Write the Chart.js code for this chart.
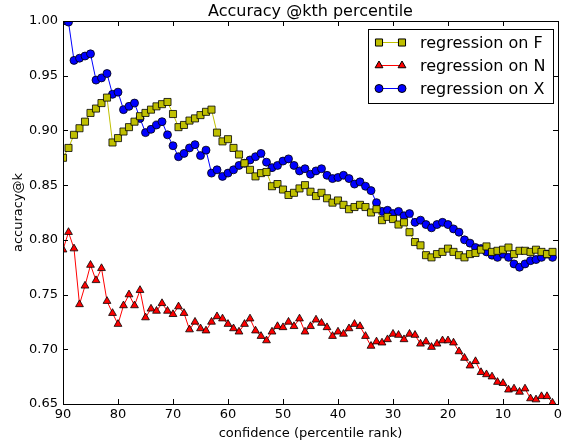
<!DOCTYPE html>
<html>
<head>
<meta charset="utf-8">
<script src="https://cdn.jsdelivr.net/npm/chart.js@4"></script>
<style>
  html, body { margin: 0; padding: 0; background: #fff; }
  #wrap { width: 568px; height: 443px; }
</style>
</head>
<body>
<div id="wrap"><canvas id="c" width="568" height="443"></canvas></div>
<script>
// percentile ranks, 90 down to 1
const ranks = [];
for (let k = 90; k >= 1; k--) ranks.push(k);

const regF = [
  0.875, 0.884, 0.896, 0.902, 0.908, 0.916, 0.920, 0.925, 0.930, 0.889,
  0.893, 0.899, 0.903, 0.908, 0.913, 0.916, 0.919, 0.922, 0.924, 0.926,
  0.915, 0.903, 0.905, 0.909, 0.911, 0.914, 0.917, 0.919, 0.898, 0.890,
  0.892, 0.884, 0.878, 0.870, 0.864, 0.858, 0.861, 0.862, 0.849, 0.851,
  0.846, 0.841, 0.843, 0.847, 0.850, 0.844, 0.840, 0.843, 0.838, 0.834,
  0.836, 0.832, 0.828, 0.830, 0.832, 0.830, 0.825, 0.828, 0.818, 0.821,
  0.819, 0.814, 0.816, 0.807, 0.798, 0.795, 0.786, 0.784, 0.787, 0.789,
  0.792, 0.789, 0.786, 0.784, 0.787, 0.788, 0.791, 0.794, 0.789, 0.790,
  0.791, 0.793, 0.787, 0.790, 0.790, 0.789, 0.791, 0.789, 0.787, 0.789
];
const regN = [
  0.791, 0.807, 0.792, 0.741, 0.758, 0.777, 0.763, 0.774, 0.744, 0.733,
  0.723, 0.740, 0.750, 0.740, 0.754, 0.729, 0.737, 0.735, 0.742, 0.735,
  0.732, 0.739, 0.733, 0.718, 0.725, 0.719, 0.717, 0.725, 0.730, 0.728,
  0.723, 0.719, 0.716, 0.723, 0.728, 0.717, 0.712, 0.708, 0.716, 0.721,
  0.720, 0.725, 0.721, 0.728, 0.716, 0.721, 0.727, 0.724, 0.720, 0.712,
  0.716, 0.714, 0.719, 0.723, 0.721, 0.712, 0.703, 0.707, 0.706, 0.709,
  0.714, 0.713, 0.709, 0.714, 0.713, 0.705, 0.707, 0.702, 0.705, 0.708,
  0.708, 0.706, 0.698, 0.692, 0.685, 0.689, 0.679, 0.677, 0.675, 0.670,
  0.669, 0.663, 0.664, 0.661, 0.664, 0.655, 0.654, 0.657, 0.657, 0.651
];
const regX = [
  1.000, 0.999, 0.964, 0.966, 0.968, 0.970, 0.946, 0.948, 0.952, 0.933,
  0.935, 0.919, 0.922, 0.925, 0.911, 0.898, 0.901, 0.905, 0.908, 0.896,
  0.886, 0.876, 0.879, 0.884, 0.887, 0.877, 0.882, 0.861, 0.864, 0.858,
  0.861, 0.864, 0.868, 0.870, 0.873, 0.876, 0.879, 0.871, 0.866, 0.868,
  0.872, 0.874, 0.868, 0.863, 0.865, 0.860, 0.863, 0.865, 0.859, 0.856,
  0.857, 0.859, 0.856, 0.851, 0.853, 0.849, 0.845, 0.834, 0.826, 0.827,
  0.824, 0.826, 0.822, 0.824, 0.816, 0.818, 0.814, 0.811, 0.814, 0.816,
  0.814, 0.810, 0.807, 0.800, 0.797, 0.793, 0.792, 0.789, 0.786, 0.784,
  0.787, 0.784, 0.778, 0.775, 0.778, 0.781, 0.782, 0.784, 0.787, 0.784
];

const xTicks = [90, 80, 70, 60, 50, 40, 30, 20, 10, 0];
const yTicks = [0.65, 0.70, 0.75, 0.80, 0.85, 0.90, 0.95, 1.00];
const titleText = 'Accuracy @kth percentile';

const font = "'DejaVu Sans', sans-serif";
const pts = vals => vals.map((v, i) => ({ x: ranks[i], y: v }));

const series = [
  { label: 'regression on F', data: regF, color: '#bfbf00', style: 'rect', r: 5 },
  { label: 'regression on N', data: regN, color: '#ff0000', style: 'triangle', r: 4.5 },
  { label: 'regression on X', data: regX, color: '#0000ff', style: 'circle', r: 4 },
];

// matplotlib-ish frame, inward ticks, title over the axes and legend box inside
const framePlugin = {
  id: 'frame',
  afterDatasetsDraw(chart) {
    const { ctx, chartArea: a, scales: { x, y } } = chart;
    ctx.save();
    ctx.strokeStyle = '#000';
    ctx.lineWidth = 1;
    ctx.beginPath();
    xTicks.forEach(t => {
      const px = Math.round(x.getPixelForValue(t)) + 0.5;
      ctx.moveTo(px, a.bottom); ctx.lineTo(px, a.bottom - 5);
      ctx.moveTo(px, a.top); ctx.lineTo(px, a.top + 5);
    });
    yTicks.forEach(t => {
      const py = Math.round(y.getPixelForValue(t)) + 0.5;
      ctx.moveTo(a.left, py); ctx.lineTo(a.left + 5, py);
      ctx.moveTo(a.right, py); ctx.lineTo(a.right - 5, py);
    });
    ctx.stroke();
    ctx.strokeRect(Math.round(a.left) + 0.5, Math.round(a.top) + 0.5,
                   Math.round(a.right - a.left), Math.round(a.bottom - a.top));

    // title, centred on the axes
    ctx.fillStyle = '#000';
    ctx.font = '16px ' + font;
    ctx.textAlign = 'center';
    ctx.textBaseline = 'alphabetic';
    ctx.fillText(titleText, (a.left + a.right) / 2, a.top - 5);

    // legend
    const bx = 368.5, by = 29.5, bw = 185, bh = 74;
    ctx.fillStyle = '#fff';
    ctx.fillRect(bx, by, bw, bh);
    ctx.strokeRect(bx, by, bw, bh);
    ctx.font = '16px ' + font;
    ctx.textAlign = 'left';
    ctx.textBaseline = 'middle';
    series.forEach((s, i) => {
      const ly = by + 13 + i * 23;
      ctx.strokeStyle = s.color;
      ctx.beginPath(); ctx.moveTo(379, ly); ctx.lineTo(402, ly); ctx.stroke();
      [379, 402].forEach(px => {
        ctx.fillStyle = s.color; ctx.strokeStyle = '#000';
        Chart.helpers.drawPoint(ctx, { pointStyle: s.style, radius: s.r, borderWidth: 0.8 }, px, ly);
      });
      ctx.fillStyle = '#000';
      ctx.fillText(s.label, 420, ly + 1);
    });
    ctx.restore();
  }
};

new Chart(document.getElementById('c'), {
  type: 'line',
  plugins: [framePlugin],
  data: {
    datasets: series.map(s => ({
      label: s.label,
      data: pts(s.data),
      borderColor: s.color,
      backgroundColor: s.color,
      borderWidth: 1,
      pointStyle: s.style,
      pointRadius: s.r,
      pointBackgroundColor: s.color,
      pointBorderColor: '#000',
      pointBorderWidth: 0.8,
      tension: 0,
    })),
  },
  options: {
    responsive: false,
    animation: false,
    layout: { padding: { top: 21, right: 10, left: 0, bottom: 0 } },
    plugins: {
      legend: { display: false },
      tooltip: { enabled: false },
      title: { display: false },
    },
    scales: {
      x: {
        type: 'linear', reverse: true, min: 0, max: 90,
        afterFit: s => { s.height = 39; },
        afterBuildTicks: s => { s.ticks = xTicks.map(v => ({ value: v })); },
        ticks: { color: '#000', font: { family: font, size: 13 }, padding: 3, maxRotation: 0 },
        grid: { display: false, drawTicks: false },
        border: { display: false },
        title: { display: true, text: 'confidence (percentile rank)', color: '#000',
                 font: { family: font, size: 13 }, padding: { top: 0, bottom: 2 } },
      },
      y: {
        min: 0.65, max: 1.0,
        afterFit: s => { s.width = 63; },
        afterBuildTicks: s => { s.ticks = yTicks.map(v => ({ value: v })); },
        ticks: { color: '#000', font: { family: font, size: 13 }, padding: 5,
                 callback: v => v.toFixed(2) },
        grid: { display: false, drawTicks: false },
        border: { display: false },
        title: { display: true, text: 'accuracy@k', color: '#000',
                 font: { family: font, size: 13 }, padding: { top: 11, bottom: 4 } },
      },
    },
  },
});
</script>
</body>
</html>
